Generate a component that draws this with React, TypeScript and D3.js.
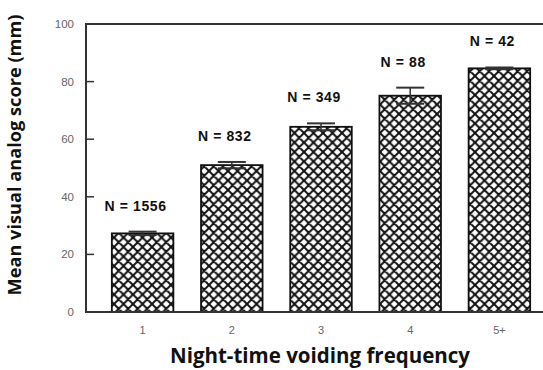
import React from "react";
import * as d3 from "d3";

const categories = ["1", "2", "3", "4", "5+"];
const meanScores = [27.3, 51.0, 64.3, 75.1, 84.6];
const errors = [0.6, 1.1, 1.2, 2.8, 0.3];
const sampleSizes = [1556, 832, 349, 88, 42];
const yTicks = [0, 20, 40, 60, 80, 100];

const W = 543;
const H = 370;

export default function App() {
  const y = d3.scaleLinear().domain([0, 100]).range([312, 24]);
  const x = d3
    .scaleBand<string>()
    .domain(categories)
    .range([98, 544])
    .paddingInner(0.31)
    .paddingOuter(0.155);

  const axisColor = "#333";
  const bw = x.bandwidth();
  const P = 9.5;

  return (
    <svg
      width={W}
      height={H}
      style={{ position: "absolute", left: 0, top: 0, background: "#fff" }}
    >
      <defs>
        <pattern id="hatch" patternUnits="userSpaceOnUse" width={P} height={P}>
          <rect width={P} height={P} fill="#fff" />
          <path
            d={`M-1,1 L1,-1 M0,${P} L${P},0 M${P - 1},${P + 1} L${P + 1},${P - 1} M-1,${P - 1} L1,${P + 1} M0,0 L${P},${P} M${P - 1},-1 L${P + 1},1`}
            stroke="#111"
            strokeWidth={2}
          />
        </pattern>
      </defs>

      {/* y ticks and labels */}
      {yTicks.map((t) => (
        <g key={t}>
          {t !== 0 && t !== 100 && (
            <line x1={86} x2={94} y1={y(t)} y2={y(t)} stroke={axisColor} strokeWidth={1.5} />
          )}
          <text
            x={74}
            y={y(t) + 4}
            textAnchor="end"
            fontFamily="Liberation Sans, Arial, sans-serif"
            fontSize={11.5}
            fill="#666"
          >
            {t}
          </text>
        </g>
      ))}

      {/* bars */}
      {categories.map((c, i) => {
        const x0 = x(c)!;
        const cx = x0 + bw / 2;
        const top = y(meanScores[i]);
        const hi = y(meanScores[i] + errors[i]);
        const lo = y(meanScores[i] - errors[i]);
        return (
          <g key={c}>
            <rect
              x={x0}
              y={top}
              width={bw}
              height={y(0) - top}
              fill="url(#hatch)"
              stroke="#111"
              strokeWidth={1.8}
            />
            <line x1={cx} x2={cx} y1={hi} y2={lo} stroke="#333" strokeWidth={1.5} />
            <line x1={cx - 14} x2={cx + 14} y1={hi} y2={hi} stroke="#333" strokeWidth={2} />
            <line x1={cx - 14} x2={cx + 14} y1={lo} y2={lo} stroke="#333" strokeWidth={2} />
            <text
              x={cx - 7}
              y={hi - 21}
              textAnchor="middle"
              fontFamily="Liberation Sans, Arial, sans-serif"
              fontWeight="bold"
              fontSize={14}
              letterSpacing={0.6}
              fill="#111"
            >
              {`N = ${sampleSizes[i]}`}
            </text>
            <text
              x={cx}
              y={334}
              textAnchor="middle"
              fontFamily="Liberation Sans, Arial, sans-serif"
              fontSize={11}
              fill="#666"
            >
              {c}
            </text>
          </g>
        );
      })}

      {/* frame */}
      <line x1={86} x2={543} y1={24} y2={24} stroke={axisColor} strokeWidth={2} />
      <line x1={86} x2={543} y1={312} y2={312} stroke={axisColor} strokeWidth={2} />
      <line x1={86} x2={86} y1={23} y2={313} stroke={axisColor} strokeWidth={2} />

      {/* axis titles */}
      <text
        x={320}
        y={363}
        textAnchor="middle"
        fontFamily="Open Sans, sans-serif"
        fontWeight="bold"
        fontSize={20.5}
        fill="#111"
      >
        Night-time voiding frequency
      </text>
      <text
        transform={`translate(21,155) rotate(-90)`}
        textAnchor="middle"
        fontFamily="Open Sans, sans-serif"
        fontWeight="bold"
        fontSize={18.2}
        fill="#111"
      >
        Mean visual analog score (mm)
      </text>
    </svg>
  );
}
